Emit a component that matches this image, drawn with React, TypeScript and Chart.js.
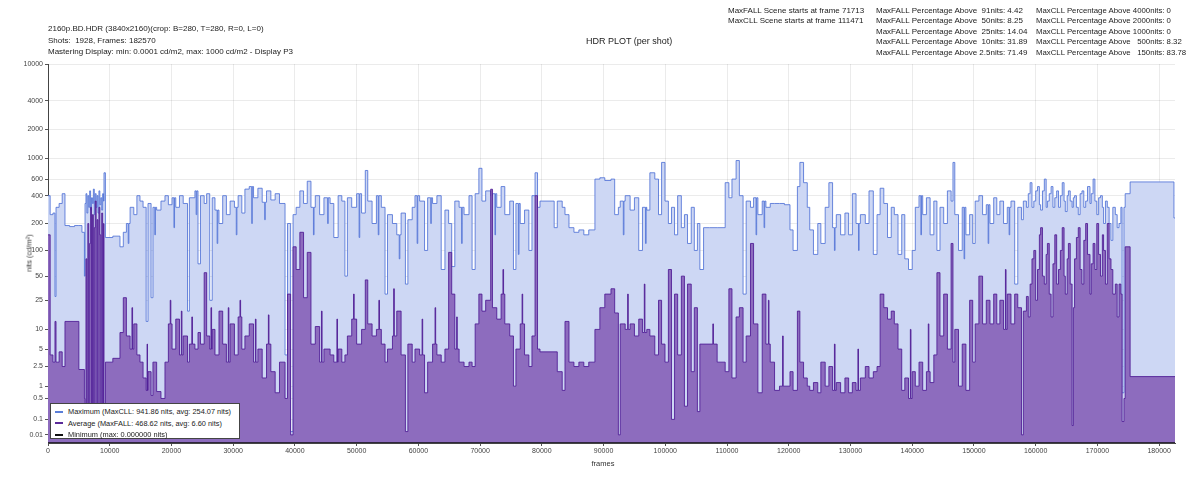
import React, { useEffect, useRef } from 'react';
import { Chart, registerables, LinearScale } from 'chart.js';

// ---------------- data ----------------
const TOTAL_FRAMES = 182570;

// x axis tick values (frames)
const xTickValues = [0, 10000, 20000, 30000, 40000, 50000, 60000, 70000, 80000, 90000, 100000, 110000, 120000, 130000, 140000, 150000, 160000, 170000, 180000];

// y axis tick values (nits) and their labels
const yTickNits = [0.01, 0.1, 0.5, 1, 2.5, 5, 10, 25, 50, 100, 200, 400, 600, 1000, 2000, 4000, 10000];
const yTickLabels = ['0.01', '0.1', '0.5', '1', '2.5', '5', '10', '25', '50', '100', '200', '400', '600', '1000', '2000', '4000', '10000'];

// per-shot MaxCLL (shot start frame, nits)
const maxCLLShots: [number, number][] = [
  [0, 400], [350, 250], [800, 260], [1130, 28], [1300, 300], [1800, 330], [2300, 420], [2750, 190], [3500, 185], [4300, 190],
  [5000, 190], [5500, 160], [5900, 50],
  [6000, 330], [6150, 420], [6300, 260], [6450, 400], [6600, 300], [6750, 450], [6900, 280], [7050, 380], [7200, 330], [7350, 470],
  [7500, 250], [7650, 420], [7800, 300], [7950, 400], [8100, 260], [8250, 450], [8400, 320], [8550, 380], [8700, 280], [8850, 420],
  [9000, 350], [9070, 700], [9300, 140], [10500, 145], [11660, 110], [12200, 160],
  [12700, 200], [13300, 300], [13900, 250], [14400, 400], [14900, 350], [15400, 300], [15900, 13], [16200, 330], [16700, 27], [17000, 300],
  [17600, 280], [18300, 350], [18950, 400], [19500, 320], [20100, 380], [20700, 300], [21300, 400], [21900, 330], [22600, 18], [22900, 380],
  [23800, 450], [24300, 70], [24700, 400], [25300, 330], [25700, 420], [26200, 25], [26600, 380], [27050, 280], [27700, 200], [28300, 400],
  [28900, 250], [29500, 350], [30200, 300], [30800, 400], [31400, 260], [31900, 470], [32600, 500], [33300, 380], [34000, 480], [34700, 340],
  [35400, 450], [36100, 360], [36800, 420], [37500, 330], [38400, 4], [38800, 200], [39300, 0.02], [39700, 250], [40200, 300], [40800, 450],
  [41400, 330], [42000, 570], [42600, 300], [43300, 400], [44000, 250], [44700, 380], [45700, 330], [46300, 140], [47000, 400], [47600, 350],
  [48100, 50], [48500, 380], [49200, 300], [50000, 420], [50800, 260], [51400, 740], [51800, 350], [52500, 200], [53200, 400], [54000, 300],
  [54600, 30], [55000, 250], [55800, 200], [56500, 150], [57200, 260], [57900, 40], [58300, 220], [59000, 300], [59450, 400], [60200, 350],
  [61000, 100], [61500, 380], [62300, 330], [63000, 400], [63700, 60], [64300, 280], [64900, 200], [65400, 65], [65900, 350], [66600, 300],
  [67400, 250], [68200, 400], [68700, 60], [69200, 420], [69800, 780], [70300, 350], [70900, 450], [71713, 400], [72000, 420], [72700, 300],
  [73400, 500], [74000, 250], [74800, 350], [75400, 60], [75800, 330], [76500, 200], [77200, 280], [77900, 100], [78400, 400], [78900, 700],
  [79300, 300], [79700, 350], [81000, 350], [82000, 180], [82500, 350], [83300, 300], [83750, 250], [84400, 180], [85200, 160], [86000, 170],
  [86800, 150], [87600, 170], [88600, 600], [89400, 620], [90200, 580], [91200, 600], [91800, 250], [92400, 300], [92700, 350], [93500, 400],
  [94300, 280], [95000, 380], [95700, 100], [96300, 300], [97000, 280], [97500, 700], [98300, 600], [98900, 250], [99400, 900], [99950, 350],
  [100500, 200], [101000, 300], [101500, 150], [102000, 400], [102600, 180], [103100, 250], [103600, 120], [104200, 300], [104700, 100], [105200, 200],
  [105600, 60], [106200, 180], [107200, 180], [108400, 180], [109700, 550], [110300, 380], [110800, 600], [111471, 941.86], [112000, 400], [112600, 30],
  [113100, 350], [113800, 300], [114300, 380], [115000, 250], [115700, 350], [116300, 300], [117000, 330], [117700, 330], [118500, 330], [119300, 320],
  [120200, 170], [120700, 100], [121400, 500], [121800, 900], [122400, 550], [123000, 300], [123400, 170], [124000, 90], [124700, 200], [125200, 120],
  [125900, 300], [126500, 550], [127100, 180], [127700, 250], [128400, 150], [129100, 260], [129700, 150], [130300, 420], [130900, 200], [131600, 250],
  [132400, 200], [133000, 450], [133700, 90], [134300, 250], [134800, 480], [135400, 330], [136000, 140], [136600, 300], [137100, 250], [137700, 90],
  [138300, 250], [138800, 80], [139400, 60], [140000, 100], [140500, 300], [141100, 400], [141700, 250], [142300, 380], [142900, 150], [143500, 350],
  [144000, 100], [144500, 300], [145100, 200], [145700, 450], [146300, 350], [146600, 900], [146900, 250], [147500, 100], [148100, 300], [148700, 150],
  [149300, 250], [149800, 120], [150200, 350], [150800, 400], [151400, 250], [152000, 320], [152600, 200], [153200, 380], [153700, 250], [154200, 350],
  [154800, 200], [155400, 300], [156000, 350], [156600, 40], [157100, 300], [157700, 220], [158000, 350],
  [158500, 300], [158800, 420], [159100, 550], [159400, 300], [159700, 350], [160000, 450], [160300, 500], [160600, 320], [160800, 280], [161100, 450],
  [161400, 600], [161700, 300], [161900, 350], [162200, 420], [162500, 500], [162800, 300], [163100, 380], [163400, 450], [163700, 300], [164000, 400],
  [164300, 550], [164600, 350], [164800, 270], [165100, 400], [165300, 450], [165600, 350], [165900, 300], [166100, 380], [166300, 400], [166600, 300],
  [166900, 250], [167200, 420], [167500, 450], [167800, 300], [168100, 350], [168400, 500], [168800, 330], [169000, 420], [169300, 600], [169600, 350],
  [169900, 250], [170200, 380], [170500, 400], [170800, 300], [171000, 200], [171300, 350], [171600, 300], [171900, 200], [172200, 130], [172500, 300],
  [172900, 250], [173200, 180], [173500, 200], [173800, 300], [174000, 0.7], [174300, 300], [174500, 420], [175300, 560], [182400, 230], [182570, 230],
];

// short MaxCLL dips (very short shots) between the shots above
const maxCLLShortShots: [number, number][] = [
  [13000, 120], [13100, 200], [17300, 150], [17400, 300], [20400, 180], [20500, 380], [24000, 250], [24100, 450],
  [27400, 120], [27500, 280], [30500, 150], [30600, 300], [33000, 200], [33100, 500], [35100, 220], [35200, 340],
  [43000, 150], [43100, 300], [45300, 200], [45400, 380], [50400, 140], [50500, 420], [53500, 150], [53600, 400],
  [56900, 80], [57000, 150], [59800, 120], [59900, 400], [62000, 200], [62100, 380], [67000, 120], [67100, 300],
  [72400, 150], [72500, 420], [76200, 90], [76300, 330], [93200, 150], [93300, 350], [96800, 120], [96900, 300],
  [114700, 150], [114800, 380], [116000, 180], [116100, 350], [127400, 100], [127500, 180], [131300, 100], [131400, 200],
  [141400, 150], [141500, 400], [148400, 80], [148500, 300], [152300, 120], [152400, 320], [155700, 150], [155800, 300],
];

// per-shot MaxFALL (shot start frame, nits)
const maxFALLShots: [number, number][] = [
  [0, 150], [350, 4], [800, 3], [1130, 13], [1300, 3], [1800, 4.5], [2300, 2.5], [2750, 13], [5000, 2.2], [5900, 0.5],
  [6000, 0.05], [6150, 80], [6300, 0.01], [6450, 200], [6600, 0.02], [6750, 120], [6900, 300], [7050, 0.01], [7200, 250], [7350, 0.03],
  [7500, 180], [7650, 350], [7800, 0.02], [7950, 220], [8100, 0.01], [8250, 300], [8400, 150], [8550, 0.01], [8700, 260], [8850, 0.05],
  [9000, 200], [9070, 0.05], [9300, 3], [10500, 3.5], [11660, 9], [12200, 27], [12700, 8], [13300, 5], [13900, 12],
  [14400, 4], [14900, 3], [15400, 1.5], [15900, 0.8], [16200, 2], [16700, 0.6], [17000, 3], [17600, 0.75], [18300, 0.5], [18950, 3],
  [19500, 12], [20100, 5], [20700, 14], [21300, 4], [21900, 8], [22600, 3], [22900, 6], [23800, 5], [24300, 9], [24700, 6],
  [25300, 55], [25700, 8], [26200, 5], [26600, 10], [27050, 4], [27700, 18], [28300, 6], [28900, 3], [29500, 12], [30200, 4],
  [30800, 15], [31400, 5], [31900, 8], [32600, 12], [33300, 3], [34000, 5], [34700, 1.5], [35400, 6], [36100, 2], [36800, 0.7],
  [37500, 3], [38400, 0.5], [38800, 30], [39300, 0.01], [39700, 110], [40200, 60], [40800, 160], [41400, 27], [42000, 95], [42600, 6],
  [43300, 11], [44000, 3], [44700, 5], [45700, 4], [46300, 3], [47000, 5], [47600, 3], [48100, 4], [48500, 8], [49200, 14],
  [50000, 6], [50800, 10], [51400, 45], [51800, 12], [52500, 8], [53200, 10], [54000, 6], [54600, 3], [55000, 5], [55800, 8],
  [56500, 18], [57200, 4], [57900, 0.02], [58300, 6], [59000, 3], [59450, 5], [60200, 4], [61000, 0.7], [61500, 3], [62300, 6],
  [63000, 4], [63700, 3], [64300, 5], [64900, 95], [65400, 30], [65900, 5], [66600, 3], [67400, 2.5], [68200, 3], [68700, 2.5],
  [69200, 12], [69800, 30], [70300, 18], [70900, 25], [71713, 468.62], [72000, 20], [72700, 14], [73400, 30], [74000, 12], [74800, 8],
  [75400, 1], [75800, 5], [76500, 12], [77200, 4], [77900, 2.5], [78400, 8], [78900, 400], [79300, 5], [79700, 4.5], [82500, 2],
  [83300, 0.8], [83750, 13], [84400, 3], [85200, 2.5], [86000, 3], [86800, 2.5], [87600, 3], [88600, 10], [89400, 20], [90200, 30],
  [91200, 35], [91800, 17], [92400, 0.01], [92700, 12], [93500, 10], [94300, 12], [95000, 8], [95700, 14], [96300, 9], [97000, 10],
  [97500, 8], [98300, 4], [98900, 25], [99400, 6], [99950, 3], [100500, 60], [101000, 0.1], [101500, 30], [102000, 4], [102600, 50],
  [103100, 0.3], [103600, 40], [104200, 2], [104700, 20], [105200, 0.2], [105600, 6], [108400, 3], [109700, 2], [110300, 35], [110800, 1.5],
  [111471, 15], [112000, 20], [112600, 3], [113100, 8], [113800, 120], [114300, 12], [115000, 0.7], [115700, 30], [116300, 6], [117000, 3],
  [117700, 0.8], [118500, 1], [120200, 2], [120700, 0.8], [121400, 18], [121800, 3], [122400, 1.5], [123000, 1], [123400, 0.8], [124000, 1.2],
  [124700, 0.7], [125200, 3], [125900, 1], [126500, 2.5], [127100, 0.8], [127700, 1.2], [128400, 0.7], [129100, 1.5], [129700, 0.7], [130300, 1.2],
  [130900, 0.8], [131600, 1.5], [132400, 2.5], [133000, 1.5], [133700, 2], [134300, 2.5], [134800, 30], [135400, 20], [136000, 14], [136600, 18],
  [137100, 12], [137700, 5], [138300, 0.8], [138800, 1.5], [139400, 0.5], [140000, 2], [140500, 1], [141100, 3], [141700, 0.8], [142300, 2],
  [142900, 1.2], [143500, 4], [144000, 55], [144500, 8], [145100, 30], [145700, 5], [146300, 120], [146600, 3], [146900, 10], [147500, 1],
  [148100, 6], [148700, 0.8], [149300, 25], [149800, 3], [150200, 12], [150800, 50], [151400, 12], [152000, 25], [152600, 12], [153200, 30],
  [153700, 12], [154200, 25], [154800, 10], [155400, 30], [156000, 12], [156600, 30], [157100, 20], [157700, 0.01], [158000, 18],
  [158500, 28], [158800, 15], [159100, 40], [159400, 80], [159700, 100], [160000, 25], [160300, 60], [160600, 150], [160800, 180], [161100, 50],
  [161400, 40], [161700, 90], [161900, 120], [162200, 30], [162500, 15], [162800, 70], [163100, 150], [163400, 40], [163700, 60], [164000, 100],
  [164300, 180], [164600, 50], [164800, 30], [165100, 80], [165300, 120], [165600, 40], [165900, 0.05], [166100, 20], [166300, 80], [166600, 140],
  [166900, 180], [167200, 60], [167500, 40], [167800, 130], [168100, 200], [168400, 90], [168800, 30], [169000, 70], [169300, 120], [169600, 60],
  [169900, 200], [170200, 90], [170500, 50], [170800, 150], [171000, 100], [171300, 40], [171600, 200], [171900, 80], [172200, 60], [172500, 30],
  [172900, 40], [173200, 15], [173500, 40], [173800, 30], [174000, 0.08], [174300, 0.5], [174500, 110], [175300, 1.6], [182570, 1.6],
];

// short MaxFALL spikes (very short shots) between the shots above
const maxFALLShortShots: [number, number][] = [
  [13600, 20], [13700, 5], [16050, 6], [16120, 0.8], [19800, 25], [19900, 12], [21600, 18], [21700, 4],
  [23300, 15], [23400, 6], [26400, 20], [26500, 5], [29200, 20], [29300, 3], [31100, 25], [31200, 15],
  [33600, 14], [33700, 3], [35700, 16], [35800, 6], [44300, 18], [44400, 3], [46800, 14], [46900, 3],
  [49500, 30], [49600, 14], [53600, 25], [53700, 10], [56000, 35], [56100, 8], [60600, 14], [60700, 4],
  [62700, 20], [62800, 6], [66200, 15], [66300, 5], [73700, 60], [73800, 30], [76800, 30], [76900, 12],
  [93900, 30], [94000, 10], [96600, 40], [96700, 9], [107700, 12], [107800, 6], [116700, 25], [116800, 6],
  [119000, 8], [119100, 1], [127400, 6], [127500, 0.8], [131200, 5], [131300, 0.8], [139700, 10], [139800, 0.5],
  [142600, 12], [142700, 2], [155100, 60], [155200, 10],
];

// minimum luminance (constant 0)
const minFrames = [0, TOTAL_FRAMES];
const minNits = [0, 0];

const headerLeft = [
  '2160p.BD.HDR (3840x2160)(crop: B=280, T=280, R=0, L=0)',
  'Shots:  1928, Frames: 182570',
  'Mastering Display: min: 0.0001 cd/m2, max: 1000 cd/m2 - Display P3',
];
const sceneLines = ['MaxFALL Scene starts at frame 71713', 'MaxCLL Scene starts at frame 111471'];
const fallLines = [
  'MaxFALL Percentage Above  91nits: 4.42',
  'MaxFALL Percentage Above  50nits: 8.25',
  'MaxFALL Percentage Above  25nits: 14.04',
  'MaxFALL Percentage Above  10nits: 31.89',
  'MaxFALL Percentage Above 2.5nits: 71.49',
];
const cllLines = [
  'MaxCLL Percentage Above 4000nits: 0',
  'MaxCLL Percentage Above 2000nits: 0',
  'MaxCLL Percentage Above 1000nits: 0',
  'MaxCLL Percentage Above   500nits: 8.32',
  'MaxCLL Percentage Above   150nits: 83.78',
];
const legendItems = [
  { label: 'Maximum (MaxCLL: 941.86 nits, avg: 254.07 nits)', color: '#5b7ed8' },
  { label: 'Average (MaxFALL: 468.62 nits, avg: 6.60 nits)', color: '#5a2a98' },
  { label: 'Minimum (max: 0.000000 nits)', color: '#111' },
];

// ---------------- PQ (ST 2084) scale ----------------
const M1 = 2610 / 16384;
const M2 = (2523 / 4096) * 128;
const C1 = 3424 / 4096;
const C2 = (2413 / 4096) * 32;
const C3 = (2392 / 4096) * 32;
function pq(n: number) {
  const y = Math.max(n, 0) / 10000;
  const p = Math.pow(y, M1);
  return Math.pow((C1 + C2 * p) / (1 + C3 * p), M2);
}
function pqInv(e: number) {
  const p = Math.pow(Math.max(e, 0), 1 / M2);
  return 10000 * Math.pow(Math.max(p - C1, 0) / (C2 - C3 * p), 1 / M1);
}

class PQScale extends LinearScale {
  static id = 'pq';
  static defaults = {};
  determineDataLimits() {
    (this as any).min = 0;
    (this as any).max = 10000;
  }
  buildTicks() {
    return yTickNits.map((v) => ({ value: v }));
  }
  getPixelForValue(value: number) {
    const lo = pq((this as any).min);
    const hi = pq((this as any).max);
    return (this as any).getPixelForDecimal((pq(value) - lo) / (hi - lo));
  }
  getValueForPixel(pixel: number) {
    const lo = pq((this as any).min);
    const hi = pq((this as any).max);
    return pqInv(lo + (this as any).getDecimalForPixel(pixel) * (hi - lo));
  }
}

Chart.register(...registerables, PQScale as any);

const FONT = '"Liberation Sans", Arial, Helvetica, sans-serif';

function toPoints(a: [number, number][], b: [number, number][]) {
  return [...a, ...b].sort((p, q) => p[0] - q[0]).map(([f, v]) => ({ x: f, y: v }));
}

export default function App() {
  const ref = useRef<HTMLCanvasElement | null>(null);

  useEffect(() => {
    if (!ref.current) return;
    const maxData = toPoints(maxCLLShots, maxCLLShortShots);
    const avgData = toPoints(maxFALLShots, maxFALLShortShots);
    const minData = minFrames.map((f, i) => ({ x: f, y: minNits[i] }));
    const chart = new Chart(ref.current, {
      type: 'line',
      data: {
        datasets: [
          {
            label: 'Minimum',
            data: minData,
            borderColor: '#111',
            borderWidth: 1.5,
            pointRadius: 0,
            stepped: true,
            fill: false,
            order: 0,
          },
          {
            label: 'Average',
            data: avgData,
            borderColor: 'rgba(78,26,148,0.85)',
            backgroundColor: 'rgb(141,108,190)',
            borderWidth: 1,
            pointRadius: 0,
            stepped: true,
            fill: 'origin',
            order: 1,
          },
          {
            label: 'Maximum',
            data: maxData,
            borderColor: 'rgba(72,108,212,0.8)',
            backgroundColor: 'rgb(205,215,244)',
            borderWidth: 1,
            pointRadius: 0,
            stepped: true,
            fill: 'origin',
            order: 2,
          },
        ] as any,
      },
      options: {
        animation: false,
        responsive: false,
        devicePixelRatio: 1,
        layout: { padding: { top: 64, right: 25, left: 0, bottom: 0 } },
        plugins: {
          legend: { display: false },
          tooltip: { enabled: false },
          title: { display: false },
        },
        scales: {
          x: {
            type: 'linear',
            min: 0,
            max: TOTAL_FRAMES,
            afterBuildTicks: (s: any) => {
              s.ticks = xTickValues.map((v) => ({ value: v }));
            },
            ticks: {
              autoSkip: false,
              maxRotation: 0,
              color: '#444',
              font: { size: 7, family: FONT },
              padding: 1,
              callback: (v: any) => String(v),
            },
            grid: { color: 'rgba(0,0,0,0.08)', tickLength: 3, tickColor: '#555' },
            border: { color: '#444', width: 1 },
            afterFit: (s: any) => {
              s.height = 37;
            },
          } as any,
          y: {
            type: 'pq',
            position: 'left',
            min: 0,
            max: 10000,
            ticks: {
              autoSkip: false,
              color: '#444',
              font: { size: 7, family: FONT },
              padding: 2,
              callback: (_v: any, i: number) => yTickLabels[i],
            },
            grid: { color: 'rgba(0,0,0,0.08)', tickLength: 3, tickColor: '#555' },
            border: { color: '#444', width: 1 },
            afterFit: (s: any) => {
              s.width = 48;
            },
          } as any,
        },
      } as any,
    });
    return () => chart.destroy();
  }, []);

  const textBase: React.CSSProperties = {
    position: 'absolute',
    whiteSpace: 'pre',
    fontFamily: FONT,
    color: '#222',
    pointerEvents: 'none',
  };

  return (
    <div
      style={{
        position: 'fixed',
        left: 0,
        top: 0,
        width: 1200,
        height: 480,
        background: '#fff',
        overflow: 'hidden',
        fontFamily: FONT,
      }}
    >
      <canvas ref={ref} width={1200} height={480} style={{ position: 'absolute', left: 0, top: 0, width: 1200, height: 480 }} />

      <div style={{ ...textBase, left: 48, top: 23, fontSize: 8, lineHeight: '11.5px' }}>
        {headerLeft.map((t, i) => (
          <div key={i}>{t}</div>
        ))}
      </div>

      <div style={{ ...textBase, left: 586, top: 36, fontSize: 9, lineHeight: '11px' }}>HDR PLOT (per shot)</div>

      <div style={{ ...textBase, left: 728, top: 6, fontSize: 8, lineHeight: '10.4px' }}>
        {sceneLines.map((t, i) => (
          <div key={i}>{t}</div>
        ))}
      </div>
      <div style={{ ...textBase, left: 876, top: 6, fontSize: 8, lineHeight: '10.4px' }}>
        {fallLines.map((t, i) => (
          <div key={i}>{t}</div>
        ))}
      </div>
      <div style={{ ...textBase, left: 1036, top: 6, fontSize: 7.8, lineHeight: '10.4px' }}>
        {cllLines.map((t, i) => (
          <div key={i}>{t}</div>
        ))}
      </div>

      <div
        style={{
          ...textBase,
          left: 29,
          top: 253,
          fontSize: 7.5,
          color: '#333',
          transform: 'translate(-50%, -50%) rotate(-90deg)',
        }}
      >
        nits (cd/m²)
      </div>
      <div style={{ ...textBase, left: 603, top: 463, fontSize: 7.5, color: '#333', transform: 'translate(-50%, -50%)' }}>frames</div>

      <div
        style={{
          position: 'absolute',
          left: 50,
          top: 403,
          width: 190,
          height: 36,
          background: '#fff',
          border: '1px solid #444',
          boxSizing: 'border-box',
          pointerEvents: 'none',
        }}
      >
        {legendItems.map((it, i) => (
          <div key={i} style={{ position: 'absolute', left: 4, top: 2 + i * 11.5, height: 11, display: 'flex', alignItems: 'center' }}>
            <div style={{ width: 8, height: 2, background: it.color, marginRight: 5 }} />
            <div style={{ fontSize: 7.4, fontFamily: FONT, color: '#222', whiteSpace: 'pre' }}>{it.label}</div>
          </div>
        ))}
      </div>
    </div>
  );
}
